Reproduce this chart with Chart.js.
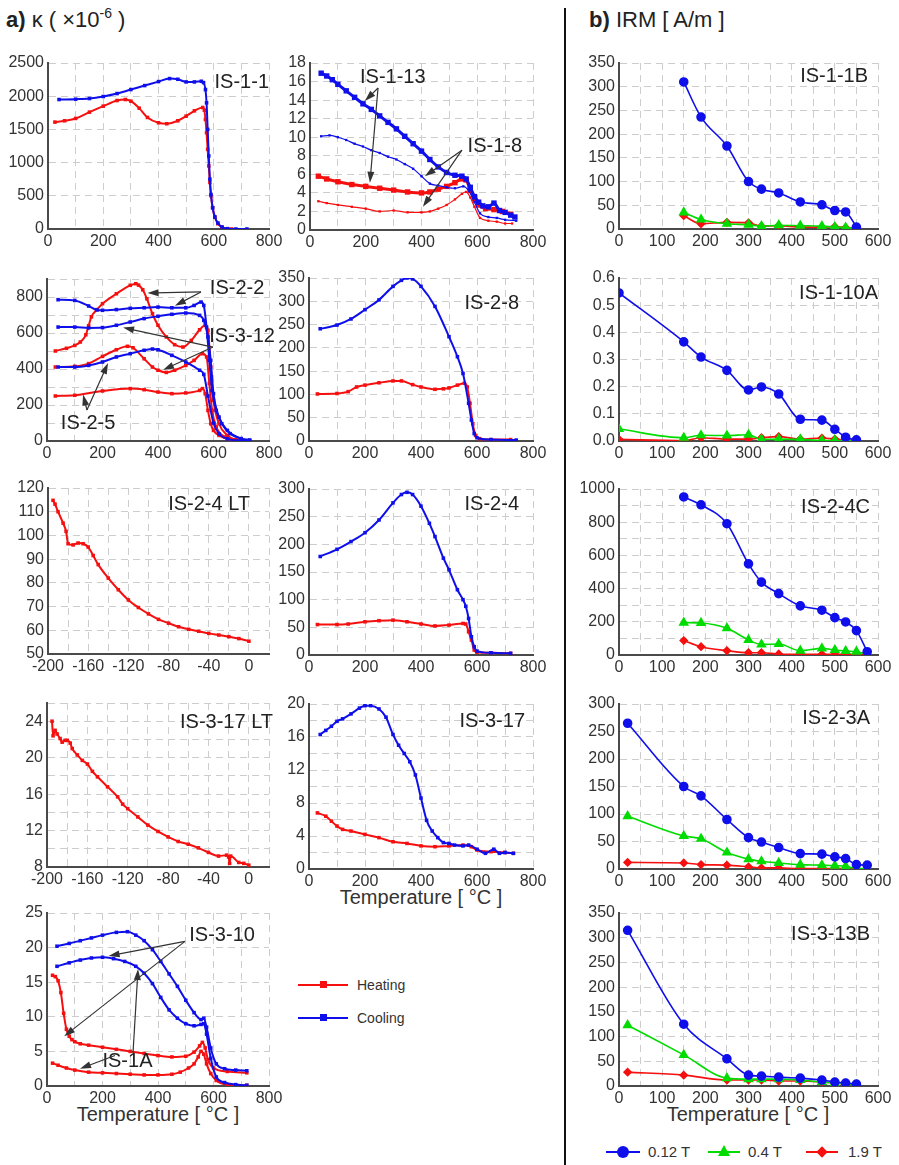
<!DOCTYPE html>
<html>
<head>
<meta charset="utf-8">
<script src="https://cdn.jsdelivr.net/npm/chart.js@4.4.1/dist/chart.umd.min.js"></script>
<style>
  body { margin: 0; background: #fff; font-family: "Liberation Sans", Arial, sans-serif; color: #222; }
  #page { position: relative; width: 899px; height: 1165px; overflow: hidden; }
  canvas { position: absolute; }
  .abs { position: absolute; white-space: nowrap; }
  .head { font-size: 22px; line-height: 24px; }
  .head sup { font-size: 14px; vertical-align: 9px; line-height: 0; }
  .axt { font-size: 20px; line-height: 24px; width: 300px; text-align: center; color: #333; }
  .leg { font-size: 14px; line-height: 18px; color: #333; }
</style>
</head>
<body>
<div id="page">
  <div class="abs head" style="left:6px;top:8px"><b>a)</b> κ ( ×10<sup>-6</sup> )</div>
  <div class="abs head" style="left:589px;top:8px"><b>b)</b> IRM [ A/m ]</div>
  <div class="abs" style="left:564px;top:8px;width:2px;height:1157px;background:#111"></div>

  <div class="abs axt" style="left:271px;top:885px">Temperature [ °C ]</div>
  <div class="abs axt" style="left:8px;top:1102px">Temperature [ °C ]</div>
  <div class="abs axt" style="left:598px;top:1102px">Temperature [ °C ]</div>

  <!-- heating / cooling legend -->
  <div class="abs" style="left:298px;top:984px;width:50px;height:2px;background:rgb(245,15,15)"></div>
  <div class="abs" style="left:320px;top:981px;width:7px;height:7px;background:rgb(245,15,15)"></div>
  <div class="abs leg" style="left:357px;top:976px">Heating</div>
  <div class="abs" style="left:298px;top:1017px;width:50px;height:2px;background:rgb(15,15,235)"></div>
  <div class="abs" style="left:320px;top:1014px;width:7px;height:7px;background:rgb(15,15,235)"></div>
  <div class="abs leg" style="left:357px;top:1009px">Cooling</div>

  <!-- IRM field legend -->
  <div class="abs" style="left:606px;top:1151px;width:34px;height:2px;background:rgb(15,15,235)"></div>
  <div class="abs" style="left:617px;top:1146px;width:12px;height:12px;border-radius:50%;background:rgb(15,15,235)"></div>
  <div class="abs leg" style="left:648px;top:1143px;font-size:15px">0.12 T</div>
  <div class="abs" style="left:708px;top:1151px;width:32px;height:2px;background:rgb(0,220,0)"></div>
  <div class="abs" style="left:718px;top:1145px;width:0;height:0;border-left:6px solid transparent;border-right:6px solid transparent;border-bottom:11px solid rgb(0,220,0)"></div>
  <div class="abs leg" style="left:748px;top:1143px;font-size:15px">0.4 T</div>
  <div class="abs" style="left:806px;top:1151px;width:32px;height:2px;background:rgb(245,15,15)"></div>
  <div class="abs" style="left:818px;top:1148px;width:8px;height:8px;transform:rotate(45deg);background:rgb(245,15,15)"></div>
  <div class="abs leg" style="left:848px;top:1143px;font-size:15px">1.9 T</div>
</div>

<script>
// ---- kappa(T) data, x = temperature in °C, k = susceptibility x1e-6 ----
const is11HeatT = [25, 60, 100, 150, 200, 250, 280, 300, 330, 360, 400, 430, 470, 500, 530, 560, 566, 570, 574, 578, 582, 586, 590, 596, 604, 615, 630, 650, 665];
const is11HeatK = [1610, 1630, 1665, 1760, 1850, 1935, 1950, 1925, 1820, 1680, 1600, 1585, 1630, 1700, 1780, 1830, 1790, 1650, 1450, 1200, 950, 700, 500, 320, 180, 80, 25, 3, 0];
const is11CoolT = [40, 100, 150, 200, 250, 300, 350, 400, 440, 470, 500, 530, 555, 563, 570, 574, 578, 582, 586, 590, 596, 604, 615, 630, 650, 680, 720];
const is11CoolK = [1950, 1955, 1965, 1995, 2040, 2100, 2160, 2220, 2265, 2255, 2215, 2215, 2225, 2205, 2100, 1900, 1500, 1100, 750, 520, 320, 180, 90, 30, 5, 0, 0];

const is113HeatT = [30, 60, 100, 150, 200, 250, 300, 350, 400, 430, 460, 490, 520, 545, 560, 575, 590, 605, 630, 660, 690, 720];
const is113HeatK = [5.8, 5.5, 5.2, 4.9, 4.7, 4.5, 4.3, 4.1, 4.0, 4.1, 4.4, 4.7, 5.1, 5.5, 5.4, 4.3, 3.4, 2.7, 2.3, 2.2, 2.0, 1.7];
const is113CoolT = [40, 60, 80, 100, 130, 160, 190, 220, 250, 280, 310, 340, 370, 400, 430, 460, 490, 520, 545, 560, 575, 590, 605, 620, 640, 660, 680, 700, 720, 735];
const is113CoolK = [16.9, 16.6, 16.2, 15.7, 15.0, 14.3, 13.6, 13.0, 12.3, 11.6, 10.9, 10.1, 9.3, 8.5, 7.6, 6.8, 6.2, 5.9, 5.8, 5.5, 4.6, 3.6, 3.0, 2.6, 2.5, 2.9, 2.1, 1.9, 1.6, 1.4];
const is18HeatT = [30, 60, 100, 150, 200, 250, 300, 350, 400, 430, 460, 490, 520, 545, 560, 575, 590, 610, 640, 670, 700, 725];
const is18HeatK = [3.1, 2.9, 2.7, 2.5, 2.3, 2.0, 2.1, 1.9, 1.9, 2.0, 2.3, 2.7, 3.3, 3.9, 4.1, 3.5, 2.5, 1.3, 1.0, 0.9, 0.7, 0.7];
const is18CoolT = [40, 70, 100, 130, 160, 190, 220, 250, 280, 310, 340, 370, 400, 430, 460, 490, 520, 550, 570, 590, 610, 640, 670, 700, 740];
const is18CoolK = [10.1, 10.2, 10.0, 9.7, 9.3, 9.0, 8.6, 8.3, 7.9, 7.6, 7.1, 6.6, 5.8, 5.0, 4.8, 4.6, 4.5, 4.7, 4.2, 3.0, 1.8, 1.4, 1.3, 1.1, 1.0];

const is22HeatT = [30, 70, 100, 120, 140, 150, 160, 180, 200, 250, 300, 320, 330, 345, 360, 380, 400, 430, 460, 490, 520, 550, 570, 580, 590, 600, 620, 650, 680, 700];
const is22HeatK = [500, 515, 531, 550, 590, 640, 690, 730, 763, 818, 865, 874, 866, 840, 790, 707, 643, 578, 535, 522, 559, 618, 643, 615, 411, 226, 96, 31, 7, 2];
const is22CoolT = [40, 100, 150, 180, 200, 250, 300, 350, 400, 450, 500, 530, 555, 565, 575, 585, 595, 610, 630, 660, 700, 730];
const is22CoolK = [785, 781, 750, 728, 726, 730, 737, 740, 744, 740, 740, 753, 772, 753, 633, 448, 281, 170, 96, 41, 13, 5];
const is312HeatT = [30, 100, 150, 200, 250, 290, 310, 350, 380, 400, 430, 460, 500, 530, 560, 575, 585, 595, 610, 640, 680];
const is312HeatK = [411, 415, 430, 470, 507, 526, 518, 457, 411, 393, 381, 393, 420, 448, 485, 467, 319, 170, 78, 22, 5];
const is312CoolT = [40, 100, 150, 200, 250, 300, 350, 400, 450, 500, 550, 565, 580, 590, 600, 620, 650, 700, 730];
const is312CoolK = [633, 633, 628, 630, 643, 661, 680, 693, 704, 711, 698, 670, 578, 448, 263, 133, 59, 13, 4];
const is25HeatT = [30, 100, 200, 300, 350, 400, 450, 500, 550, 560, 570, 580, 590, 600, 620, 650, 680];
const is25HeatK = [250, 254, 278, 291, 285, 272, 263, 267, 281, 291, 263, 170, 96, 59, 31, 13, 3];
const is25CoolT = [40, 100, 150, 200, 250, 300, 350, 380, 400, 450, 500, 550, 565, 580, 600, 620, 650, 700, 730];
const is25CoolK = [411, 411, 420, 439, 467, 485, 504, 511, 507, 476, 439, 393, 370, 250, 100, 40, 12, 3, 2];

const is28HeatT = [30, 100, 140, 170, 200, 250, 300, 330, 370, 400, 450, 480, 500, 530, 555, 565, 575, 585, 595, 610, 650, 720];
const is28HeatK = [101, 102, 106, 116, 120, 125, 129, 129, 121, 116, 111, 112, 114, 120, 124, 116, 81, 37, 12, 5, 3, 3];
const is28CoolT = [40, 100, 150, 200, 250, 300, 330, 350, 370, 400, 450, 500, 530, 550, 570, 580, 590, 600, 650, 740];
const is28CoolK = [241, 249, 262, 282, 303, 332, 345, 350, 348, 332, 289, 224, 181, 145, 81, 45, 16, 7, 3, 2];

const is24ltT = [-195, -193, -190, -185, -182, -180, -175, -170, -165, -160, -155, -150, -140, -130, -120, -110, -100, -90, -80, -70, -60, -50, -40, -30, -20, -10, 0];
const is24ltK = [114.8, 113.2, 110, 105.2, 101.7, 96.5, 96, 96.8, 96.5, 95.1, 91.5, 87.7, 82, 77.1, 72.8, 69.6, 66.9, 64.6, 63, 61.5, 60.4, 59.6, 58.7, 58, 57.3, 56.5, 55.4];

const is24HeatT = [30, 100, 140, 200, 250, 300, 350, 400, 450, 500, 550, 560, 570, 580, 590, 600, 650, 720];
const is24HeatK = [55, 55, 56, 60, 62, 63, 60, 56, 52.5, 54, 57, 56, 42, 27, 9, 5, 4, 3];
const is24CoolT = [40, 100, 150, 200, 250, 300, 330, 350, 370, 400, 430, 450, 480, 500, 530, 550, 560, 570, 580, 590, 600, 650, 720];
const is24CoolK = [178, 191, 205, 221, 244, 275, 290, 294, 290, 269, 238, 214, 175, 154, 118, 100, 88, 66, 33, 15, 7, 4, 3];

const is317ltT = [-195, -194, -192, -190, -187, -185, -182, -180, -177, -175, -170, -165, -160, -155, -150, -140, -130, -125, -120, -110, -100, -90, -80, -70, -60, -50, -40, -30, -22, -20, -19, -18, -10, -5, 0];
const is317ltK = [24.0, 22.4, 23.0, 22.6, 22.1, 21.7, 21.9, 21.9, 21.6, 21.0, 20.3, 19.7, 19.3, 18.5, 17.9, 16.8, 15.7, 14.9, 14.4, 13.5, 12.6, 11.9, 11.3, 10.8, 10.5, 10.1, 9.6, 9.2, 9.3, 9.1, 8.4, 9.2, 8.5, 8.4, 8.2];

const is317HeatT = [30, 60, 80, 100, 120, 150, 200, 250, 300, 350, 400, 450, 500, 550, 580, 600, 650, 700, 730];
const is317HeatK = [6.8, 6.4, 5.8, 5.2, 4.8, 4.6, 4.2, 3.8, 3.3, 3.1, 2.8, 2.7, 2.8, 2.9, 2.7, 2.3, 2.1, 2.0, 1.9];
const is317CoolT = [40, 60, 80, 100, 120, 150, 180, 200, 220, 250, 275, 300, 320, 340, 360, 380, 400, 420, 440, 460, 480, 500, 520, 550, 570, 600, 630, 660, 680, 700, 730];
const is317CoolK = [16.3, 16.8, 17.3, 17.9, 18.2, 18.8, 19.5, 19.8, 19.8, 19.4, 18.4, 16.3, 15.0, 14.0, 13.0, 11.4, 8.6, 5.9, 4.6, 3.8, 3.2, 3.1, 2.9, 2.8, 2.9, 2.4, 1.9, 2.4, 1.9, 2.0, 1.9];

const is310HeatT = [20, 30, 40, 50, 60, 70, 80, 90, 100, 120, 150, 200, 250, 300, 350, 400, 450, 500, 530, 550, 560, 570, 580, 600, 650, 720];
const is310HeatK = [16.0, 15.8, 15.2, 13.5, 10.5, 8.2, 7.2, 6.7, 6.4, 6.1, 5.9, 5.6, 5.3, 5.0, 4.7, 4.4, 4.2, 4.3, 4.9, 5.8, 6.3, 5.5, 3.8, 2.6, 2.1, 1.9];
const is310CoolT = [36, 80, 120, 160, 200, 250, 290, 320, 350, 380, 410, 440, 470, 500, 530, 555, 565, 575, 590, 610, 640, 680, 720];
const is310CoolK = [20.2, 20.6, 21.0, 21.4, 21.8, 22.2, 22.3, 21.8, 21.0, 19.7, 18.0, 16.2, 14.4, 12.4, 10.6, 9.6, 9.8, 8.5, 5.5, 3.2, 2.5, 2.3, 2.2];
const is1aHeatT = [20, 40, 70, 100, 150, 200, 250, 300, 350, 400, 450, 480, 510, 530, 545, 555, 565, 575, 590, 610, 650, 720];
const is1aHeatK = [3.3, 3.0, 2.6, 2.3, 2.0, 1.9, 1.8, 1.7, 1.6, 1.6, 1.7, 2.0, 2.6, 3.2, 4.2, 5.0, 4.6, 3.2, 1.8, 0.8, 0.2, 0.1];
const is1aCoolT = [36, 80, 120, 160, 200, 240, 280, 320, 350, 380, 410, 440, 470, 500, 530, 555, 565, 575, 590, 610, 640, 680, 720];
const is1aCoolK = [17.3, 17.8, 18.2, 18.5, 18.6, 18.4, 18.0, 17.3, 16.3, 14.8, 12.8, 11.0, 9.8, 9.0, 8.7, 8.9, 9.0, 7.5, 4.0, 1.3, 0.5, 0.2, 0.1];

// ---- IRM thermal demagnetisation, A/m ----
const irm11bT = [150, 190, 250, 300, 330, 370, 420, 470, 500, 525, 550];
const irm11b012 = [310, 236, 175, 100, 84, 76, 57, 51, 39, 36, 4];
const irm11b04 = [35, 20, 11, 9, 6, 8, 7, 6, 4, 3, 1];
const irm11b19 = [28, 11, 14, 13, 6, 7, 4, 4, 5, 3, 1];

const irm110aT = [0, 150, 190, 250, 300, 330, 370, 420, 470, 500, 525, 550];
const irm110a012 = [0.545, 0.365, 0.309, 0.26, 0.188, 0.199, 0.173, 0.08, 0.077, 0.043, 0.014, 0.004];
const irm110a04 = [0.044, 0.012, 0.021, 0.02, 0.023, 0.006, 0.007, 0.006, 0.002, 0.002, 0.001, 0.001];
const irm110a19 = [0.006, 0.001, 0.012, 0.007, 0.007, 0.012, 0.016, 0.007, 0.011, 0.007, 0.004, 0.002];

const irm24cT = [150, 190, 250, 300, 330, 370, 420, 470, 500, 525, 550, 575];
const irm24c012 = [952, 905, 791, 549, 439, 370, 296, 270, 225, 199, 147, 20];
const irm24c04 = [195, 193, 161, 91, 64, 66, 26, 40, 30, 24, 20, 4];
const irm24c19 = [87, 50, 26, 14, 14, 6, 4, 4, 4, 4, 4, 2];

const irm23aT = [20, 150, 190, 250, 300, 330, 370, 420, 470, 500, 525, 550, 575];
const irm23a012 = [265, 150, 133, 90, 57, 49, 39, 28, 27, 22, 19, 8, 7];
const irm23a04 = [96, 60, 55, 30, 18, 14, 11, 8, 7, 6, 5, 1, 1];
const irm23a19 = [12, 11, 8, 7, 4, 2, 2, 1, 1, 1, 1, 0.5, 0.5];

const irm313bT = [20, 150, 250, 300, 330, 370, 420, 470, 500, 525, 550];
const irm313b012 = [315, 125, 55, 22, 20, 18, 16, 12, 8, 6, 4];
const irm313b04 = [123, 63, 16, 14, 14, 14, 12, 8, 6, 4, 2];
const irm313b19 = [28, 22, 12, 12, 12, 10, 10, 8, 6, 4, 2];

// ---- common look ----
const RED = 'rgb(245,15,15)';
const BLUE = 'rgb(15,15,235)';
const GREEN = 'rgb(0,220,0)';
Chart.defaults.font.family = '"Liberation Sans", Arial, sans-serif';
Chart.defaults.font.size = 16;
Chart.defaults.color = '#333';

function pts(xs, ys) {
    return xs.map((t, i) => ({ x: t, y: ys[i] }));
}

function kLine(xs, ys, color, w) {
    w = w || 2;
    return {
        data: pts(xs, ys), borderColor: color, backgroundColor: color,
        borderWidth: w, pointRadius: w > 2 ? 1.7 : (w < 2 ? 0.8 : 1.1), pointStyle: 'rect',
        cubicInterpolationMode: 'monotone'
    };
}

function irmLine(xs, ys, color, shape, r) {
    return {
        data: pts(xs, ys), borderColor: color, backgroundColor: color,
        borderWidth: 1.6, pointRadius: r, pointStyle: shape,
        cubicInterpolationMode: 'monotone'
    };
}

function every(step, base, digits) {
    return function (v) {
        const k = Math.round((v - base) * 1000) % Math.round(step * 1000);
        if (k !== 0) return '';
        return digits ? v.toFixed(digits) : Math.round(v);
    };
}

function arrow(ctx, x1, y1, x2, y2) {
    const a = Math.atan2(y2 - y1, x2 - x1);
    const c = Math.cos(a), s = Math.sin(a);
    ctx.beginPath();
    ctx.moveTo(x1, y1);
    ctx.lineTo(x2 - 7 * c, y2 - 7 * s);
    ctx.stroke();
    ctx.beginPath();
    ctx.moveTo(x2, y2);
    ctx.lineTo(x2 - 11 * c + 3.5 * s, y2 - 11 * s - 3.5 * c);
    ctx.lineTo(x2 - 11 * c - 3.5 * s, y2 - 11 * s + 3.5 * c);
    ctx.closePath();
    ctx.fill();
}

// panel names, labels and arrows, drawn on top of the data
function notes(n) {
    return {
        id: 'notes',
        afterDatasetsDraw(chart) {
            const { ctx, chartArea: a, scales: { x, y } } = chart;
            ctx.save();
            ctx.font = '20px "Liberation Sans", Arial, sans-serif';
            ctx.fillStyle = '#222';
            if (n.title) {
                ctx.textAlign = 'right';
                ctx.textBaseline = 'alphabetic';
                ctx.fillText(n.title, a.right - n.dx, a.top + n.dy);
            }
            ctx.textAlign = 'center';
            ctx.textBaseline = 'middle';
            (n.texts || []).forEach(t => ctx.fillText(t.text, x.getPixelForValue(t.at[0]), y.getPixelForValue(t.at[1])));
            ctx.strokeStyle = '#333';
            ctx.fillStyle = '#333';
            ctx.lineWidth = 1.2;
            (n.arrows || []).forEach(r => arrow(ctx,
                x.getPixelForValue(r[0]), y.getPixelForValue(r[1]),
                x.getPixelForValue(r[2]), y.getPixelForValue(r[3])));
            ctx.restore();
        }
    };
}

function axis(min, max, step, label, base, digits, extra) {
    return Object.assign({
        type: 'linear', min: min, max: max,
        ticks: { stepSize: step, autoSkip: false, maxRotation: 0, padding: 4, callback: every(label, base, digits) },
        grid: { color: '#cdcdcd', lineWidth: 1, drawTicks: false },
        border: { display: true, color: '#4a4a4a', width: 2, dash: [7, 5] }
    }, extra || {});
}

// box = chart area [left, top, right, bottom] on the page
function panel(box, xAx, yAx, datasets, n) {
    const [l, t, r, b] = box;
    const cv = document.createElement('canvas');
    const w = r - l + 50 + 22, h = b - t + 14 + 26;
    cv.width = w; cv.height = h;
    cv.style.left = (l - 50) + 'px';
    cv.style.top = (t - 14) + 'px';
    cv.style.width = w + 'px';
    cv.style.height = h + 'px';
    document.getElementById('page').appendChild(cv);
    xAx.afterFit = s => { s.height = 26; };
    xAx.ticks.padding = 3;
    yAx.afterFit = s => { s.width = 50; };
    new Chart(cv.getContext('2d'), {
        type: 'line',
        data: { datasets: datasets },
        options: {
            responsive: false, animation: false, devicePixelRatio: 1,
            layout: { padding: { top: 14, right: 22, left: 0, bottom: 0 } },
            plugins: { legend: { display: false }, tooltip: { enabled: false } },
            scales: { x: xAx, y: yAx }
        },
        plugins: [notes(n)]
    });
}

const tX = () => axis(0, 800, 100, 200, 0);
const ltX = () => axis(-200, 20, 20, 40, 0);
const irmX = () => axis(0, 600, 50, 100, 0);

// ---- a) susceptibility panels ----
panel([48, 63, 269, 229], tX(), axis(0, 2500, 500, 500, 0),
    [kLine(is11CoolT, is11CoolK, BLUE), kLine(is11HeatT, is11HeatK, RED)],
    { title: 'IS-1-1', dx: 0, dy: 25 });

panel([310, 63, 533, 230], tX(), axis(0, 18, 2, 2, 0),
    [kLine(is113CoolT, is113CoolK, BLUE, 3), kLine(is18CoolT, is18CoolK, BLUE, 1.2),
     kLine(is113HeatT, is113HeatK, RED, 3), kLine(is18HeatT, is18HeatK, RED, 1.2)],
    { texts: [{ text: 'IS-1-13', at: [297, 16.4] }, { text: 'IS-1-8', at: [663, 9.05] }],
      arrows: [[244, 15.3, 197, 13.9], [244, 15.3, 215, 5.1], [545, 8.6, 412, 5.8], [545, 8.6, 405, 2.5]] });

panel([47, 279, 269, 441], tX(), axis(0, 900, 100, 200, 0),
    [kLine(is22CoolT, is22CoolK, BLUE), kLine(is312CoolT, is312CoolK, BLUE), kLine(is25CoolT, is25CoolK, BLUE),
     kLine(is22HeatT, is22HeatK, RED), kLine(is312HeatT, is312HeatK, RED), kLine(is25HeatT, is25HeatK, RED)],
    { texts: [{ text: 'IS-2-2', at: [685, 850] }, { text: 'IS-3-12', at: [703, 578] }, { text: 'IS-2-5', at: [148, 100] }],
      arrows: [[555, 828, 362, 822], [555, 828, 461, 752], [598, 522, 274, 630], [598, 522, 418, 395],
               [144, 172, 220, 433], [144, 172, 130, 258]] });

panel([309, 278, 533, 441], tX(), axis(0, 350, 50, 50, 0),
    [kLine(is28CoolT, is28CoolK, BLUE), kLine(is28HeatT, is28HeatK, RED)],
    { title: 'IS-2-8', dx: 14, dy: 31 });

panel([48, 488, 269, 654], ltX(), axis(50, 120, 10, 10, 0),
    [kLine(is24ltT, is24ltK, RED)],
    { title: 'IS-2-4 LT', dx: 19, dy: 22 });

panel([309, 489, 533, 655], tX(), axis(0, 300, 50, 50, 0),
    [kLine(is24CoolT, is24CoolK, BLUE), kLine(is24HeatT, is24HeatK, RED)],
    { title: 'IS-2-4', dx: 14, dy: 21 });

panel([47, 703, 269, 867], ltX(), axis(8, 26, 2, 4, 8),
    [kLine(is317ltT, is317ltK, RED)],
    { title: 'IS-3-17 LT', dx: -4, dy: 25 });

panel([309, 704, 533, 869], tX(), axis(0, 20, 2, 4, 0),
    [kLine(is317CoolT, is317CoolK, BLUE), kLine(is317HeatT, is317HeatK, RED)],
    { title: 'IS-3-17', dx: 8, dy: 23 });

panel([47, 913, 269, 1086], tX(), axis(0, 25, 5, 5, 0),
    [kLine(is310CoolT, is310CoolK, BLUE), kLine(is1aCoolT, is1aCoolK, BLUE),
     kLine(is310HeatT, is310HeatK, RED), kLine(is1aHeatT, is1aHeatK, RED)],
    { texts: [{ text: 'IS-3-10', at: [631, 21.8] }, { text: 'IS-1A', at: [290, 3.5] }],
      arrows: [[497, 20.9, 222, 18.8], [497, 20.9, 62, 7.2], [310, 4.8, 328, 16.9], [245, 4.4, 119, 2.5]] });

// ---- b) IRM panels ----
function irmSets(xs, a, b, c) {
    return [irmLine(xs, a, BLUE, 'circle', 4), irmLine(xs, b, GREEN, 'triangle', 4.5), irmLine(xs, c, RED, 'rectRot', 3.5)];
}

panel([619, 63, 878, 229], irmX(), axis(0, 350, 50, 50, 0),
    irmSets(irm11bT, irm11b012, irm11b04, irm11b19), { title: 'IS-1-1B', dx: 10, dy: 19 });

panel([619, 278, 878, 441], irmX(), axis(0, 0.6, 0.1, 0.1, 0, 1),
    irmSets(irm110aT, irm110a012, irm110a04, irm110a19), { title: 'IS-1-10A', dx: 0, dy: 21 });

panel([619, 489, 878, 655], irmX(), axis(0, 1000, 100, 200, 0),
    irmSets(irm24cT, irm24c012, irm24c04, irm24c19), { title: 'IS-2-4C', dx: 8, dy: 24 });

panel([619, 704, 878, 869], irmX(), axis(0, 300, 50, 50, 0),
    irmSets(irm23aT, irm23a012, irm23a04, irm23a19), { title: 'IS-2-3A', dx: 8, dy: 20 });

panel([619, 913, 878, 1086], irmX(), axis(0, 350, 50, 50, 0),
    irmSets(irm313bT, irm313b012, irm313b04, irm313b19), { title: 'IS-3-13B', dx: 8, dy: 27 });
</script>
</body>
</html>
